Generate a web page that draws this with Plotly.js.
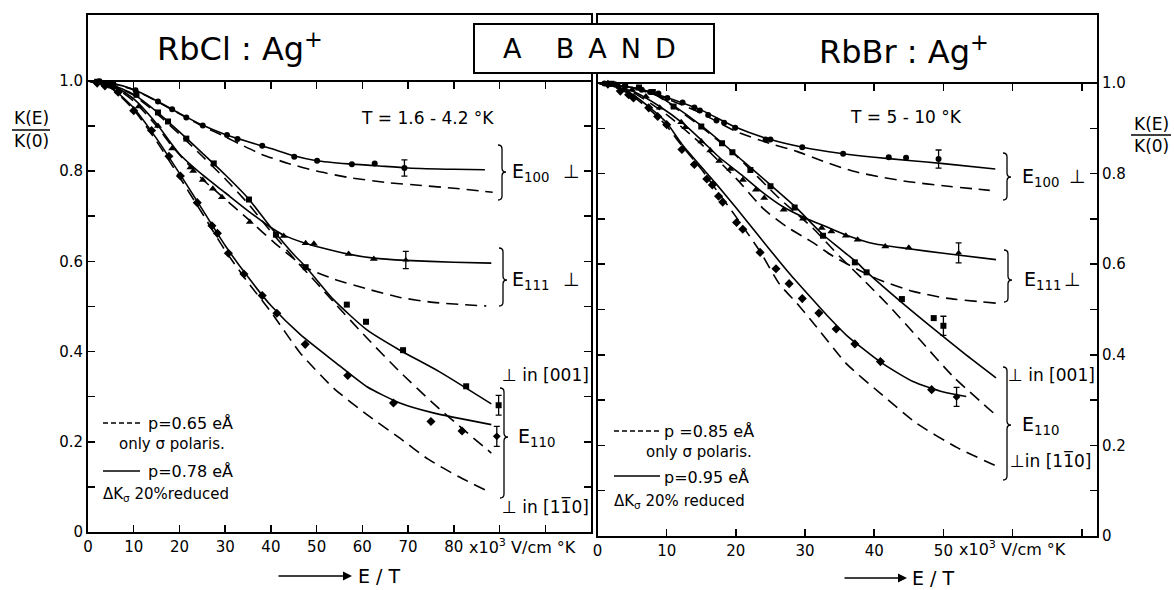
<!DOCTYPE html>
<html><head><meta charset="utf-8">
<script src="https://cdn.plot.ly/plotly-3.0.1.min.js"></script>
<style>html,body{margin:0;padding:0;background:#fff}#chart{width:1174px;height:590px}</style>
</head><body><div id="chart"></div><script>
// ---------------- DATA : left panel (RbCl:Ag+) ----------------
const L_E100_sol_x = [0,5,10,15,20,25,30,35,40,45,50,57,63,70,80,86.8];
const L_E100_sol_y = [1,0.995,0.981,0.956,0.928,0.902,0.881,0.865,0.850,0.834,0.823,0.816,0.812,0.807,0.804,0.803];
const L_E100_das_x = [0,5,10,15,20,25,30,33.6,38,43.8,50,56.9,65,73,80,88.5];
const L_E100_das_y = [1,0.995,0.980,0.955,0.927,0.900,0.876,0.858,0.837,0.817,0.800,0.786,0.775,0.768,0.762,0.753];
const L_E111_sol_x = [0,5,10,15,20,25,30,35,40,42.8,47.5,50,57,62.5,69.5,80,88.2];
const L_E111_sol_y = [1,0.992,0.960,0.905,0.838,0.792,0.752,0.712,0.675,0.658,0.640,0.633,0.616,0.607,0.602,0.598,0.596];
const L_E111_das_x = [0,5,10,15,18.4,22.4,25,29.3,35.4,40.9,47.5,53.7,61,68.2,75.5,87.1];
const L_E111_das_y = [1,0.990,0.955,0.900,0.855,0.810,0.782,0.744,0.690,0.640,0.587,0.561,0.539,0.520,0.509,0.501];
const L_001_sol_x = [0,5,10,15,20,25,30,35,40,45,47.6,53.7,61,68.2,76.9,88.2];
const L_001_sol_y = [1,0.992,0.970,0.932,0.887,0.840,0.792,0.740,0.675,0.615,0.588,0.515,0.448,0.403,0.355,0.284];
const L_001_das_x = [0,5,10,15,20,25,30,35,40,45,50,53.7,61,68.2,75.5,82.7,88.2];
const L_001_das_y = [1,0.991,0.968,0.928,0.882,0.833,0.783,0.728,0.666,0.607,0.552,0.510,0.430,0.355,0.285,0.222,0.175];
const L_110_sol_x = [0,5,10,15,20,25,30,35,40,46.4,53.7,61,68.2,75.5,88.2];
const L_110_sol_y = [1,0.985,0.940,0.872,0.795,0.715,0.635,0.565,0.502,0.438,0.379,0.322,0.286,0.264,0.238];
const L_110_das_x = [0,5,10,15,20,25,30,35,40,46.4,53.7,61,68.2,74.3,81,87.5];
const L_110_das_y = [1,0.984,0.936,0.866,0.787,0.706,0.624,0.553,0.488,0.397,0.319,0.260,0.208,0.162,0.123,0.090];

const L_circ_x = [2.5,5.5,10.4,15.3,18.4,21.5,25.1,30.4,32.7,38.1,45.1,50.1,57.7,62.7];
const L_circ_y = [0.999,0.995,0.979,0.954,0.937,0.919,0.901,0.880,0.871,0.856,0.832,0.823,0.815,0.817];
const L_sq_x = [2,5,10.6,15.3,17.5,21.5,27.5,35.2,41.1,47.6,56.6,60.8,68.9,82.7];
const L_sq_y = [0.998,0.990,0.969,0.930,0.910,0.872,0.817,0.737,0.659,0.587,0.504,0.466,0.403,0.323];
const L_tri_x = [3,6,11.1,15.3,18.4,22.4,23.0,25.1,27.3,29.3,35.4,42.8,47.6,49.4,57.0,62.5];
const L_tri_y = [0.996,0.985,0.943,0.900,0.850,0.808,0.800,0.780,0.761,0.742,0.687,0.656,0.640,0.639,0.616,0.605];
const L_dia_x = [2,3.7,6.6,10,13.9,17.7,20.2,23.9,27.1,28.3,30.7,34.1,38.1,41.3,47.5,56.8,66.8,75,81.8];
const L_dia_y = [0.995,0.989,0.975,0.934,0.890,0.833,0.789,0.730,0.679,0.662,0.618,0.572,0.524,0.485,0.416,0.347,0.286,0.245,0.224];
const L_err_x = [69.2,69.5,89.8,89.4];
const L_err_y = [0.807,0.603,0.281,0.212];
const L_err_e = [0.018,0.019,0.022,0.022];

// ---------------- DATA : right panel (RbBr:Ag+) ----------------
const R_E100_sol_x = [0,5,10,15,20,25,30,35,40,45,50,57.5];
const R_E100_sol_y = [1,0.990,0.968,0.940,0.902,0.875,0.857,0.845,0.836,0.829,0.822,0.810];
const R_E100_das_x = [0,5,10,15,20,25,28.8,33,37,41,45,50,56.7];
const R_E100_das_y = [1,0.989,0.965,0.933,0.893,0.866,0.849,0.825,0.805,0.792,0.782,0.773,0.763];
const R_E111_sol_x = [0,5,9,12.4,15,17.6,21,24,27,30,33,36,40,45,50,57.6];
const R_E111_sol_y = [1,0.982,0.948,0.910,0.874,0.836,0.795,0.757,0.725,0.702,0.683,0.664,0.645,0.634,0.624,0.610];
const R_E111_das_x = [0,5,10,15,20,24,27.3,31.1,34,37.4,40.8,45.6,50.4,57.6];
const R_E111_das_y = [1,0.980,0.930,0.865,0.790,0.722,0.683,0.648,0.618,0.590,0.565,0.540,0.525,0.514];
const R_001_sol_x = [0,5,8,11,15,18,21,25,28.5,32.6,35,37.4,38.9,44,48.6,53,57.6];
const R_001_sol_y = [1,0.990,0.978,0.950,0.906,0.868,0.828,0.775,0.728,0.665,0.635,0.605,0.583,0.515,0.457,0.403,0.349];
const R_001_das_x = [0,5,8,11,15,20,26.3,31.1,35,38.4,42.2,46.6,51.4,57.2];
const R_001_das_y = [1,0.990,0.977,0.948,0.903,0.840,0.745,0.680,0.617,0.566,0.507,0.433,0.352,0.272];
const R_110_sol_x = [0,3,5,8,10,12.2,15,17,20,23,26.3,28,31.1,33.6,36,40.8,45.6,50,53.3];
const R_110_sol_y = [1,0.990,0.975,0.940,0.912,0.865,0.815,0.780,0.725,0.668,0.606,0.575,0.522,0.480,0.443,0.385,0.341,0.318,0.308];
const R_110_das_x = [0,3,5,8,10,12,15,17.5,20,23.5,26.3,28.8,31.1,36,40.8,46.1,52,58.3];
const R_110_das_y = [1,0.988,0.972,0.935,0.905,0.865,0.810,0.757,0.705,0.628,0.556,0.514,0.472,0.380,0.316,0.249,0.195,0.150];

const R_circ_x = [1,2.5,4,6.4,7.6,8.8,10.1,12.3,14,14.8,16,17.2,18.3,19.9,24.3,25,29.6,35.5,42.1,44.6];
const R_circ_y = [0.999,0.997,0.993,0.985,0.980,0.977,0.967,0.957,0.946,0.939,0.929,0.917,0.912,0.901,0.875,0.875,0.858,0.844,0.836,0.835];
const R_sq_x = [2,4,6,8,11,15,18,19.5,22.1,25,28.5,32.6,37.2,38.9,44,48.6];
const R_sq_y = [0.998,0.995,0.990,0.980,0.948,0.904,0.867,0.847,0.808,0.772,0.725,0.663,0.604,0.582,0.523,0.481];
const R_tri_x = [3,5,7,9,12.1,12.7,15,16.3,17.6,19.2,21,22.9,24.1,26.9,29.7,32.4,33.8,35.9,37.6,41.6,45];
const R_tri_y = [0.995,0.985,0.970,0.945,0.913,0.902,0.871,0.851,0.828,0.810,0.786,0.764,0.746,0.720,0.700,0.680,0.672,0.663,0.654,0.639,0.636];
const R_dia_x = [1.5,3.3,4.5,5.2,7.4,8.7,10,12.2,14,15.8,16.6,17.5,18.1,20.1,21,23.5,25.8,27.7,29.6,32,34.5,37.2,40.9,48.3];
const R_dia_y = [0.997,0.982,0.974,0.967,0.945,0.926,0.908,0.853,0.820,0.788,0.775,0.750,0.737,0.692,0.677,0.626,0.590,0.557,0.524,0.492,0.457,0.424,0.385,0.323];
const R_err_x = [49.3,52.2,50.0,51.9];
const R_err_y = [0.832,0.625,0.464,0.307];
const R_err_e = [0.020,0.022,0.021,0.021];

const ERR_SYMBOLS = ['circle','triangle-up','square','diamond'];
const L_XTICKS = [0,10,20,30,40,50,60,70,80,90,100];
const L_XTEXT  = ['0','10','20','30','40','50','60','70','80','',''];
const R_XTICKS = [0,10,20,30,40,50,60,70];
const R_XTEXT  = ['0','10','20','30','40','50','',''];
const Y_TICKS = [0,0.1,0.2,0.3,0.4,0.5,0.6,0.7,0.8,0.9,1.0];
const Y_TEXT  = ['0','','0.2','','0.4','','0.6','','0.8','','1.0'];

// ---------------- helpers ----------------
const W = 1174, H = 590;
const PX = x => x / W, PY = y => 1 - y / H;
const FONT = 'DejaVu Sans, Liberation Sans, sans-serif';
const DASH = '12px,7px';

function curve(x, y, dashed, xa, ya) {
  return {type:'scatter', mode:'lines', x, y, xaxis:xa, yaxis:ya,
    line:{color:'black', width:1.6, dash: dashed ? DASH : 'solid', shape:'spline', smoothing:0.6},
    hoverinfo:'skip', showlegend:false};
}
function pts(x, y, symbol, size, xa, ya) {
  return {type:'scatter', mode:'markers', x, y, xaxis:xa, yaxis:ya,
    marker:{symbol, size, color:'black', line:{width:0}}, hoverinfo:'skip', showlegend:false};
}
function errs(x, y, e, xa, ya) {
  return {type:'scatter', mode:'markers', x, y, xaxis:xa, yaxis:ya,
    marker:{symbol:ERR_SYMBOLS, size:6, color:'black'},
    error_y:{type:'data', array:e, visible:true, color:'black', thickness:1.3, width:3},
    hoverinfo:'skip', showlegend:false};
}

const traces = [
  curve(L_E100_sol_x, L_E100_sol_y, false, 'x3', 'y'),
  curve(L_E100_das_x, L_E100_das_y, true, 'x', 'y'),
  curve(L_E111_sol_x, L_E111_sol_y, false, 'x', 'y'),
  curve(L_E111_das_x, L_E111_das_y, true, 'x', 'y'),
  curve(L_001_sol_x, L_001_sol_y, false, 'x', 'y'),
  curve(L_001_das_x, L_001_das_y, true, 'x', 'y'),
  curve(L_110_sol_x, L_110_sol_y, false, 'x', 'y'),
  curve(L_110_das_x, L_110_das_y, true, 'x', 'y'),
  pts(L_circ_x, L_circ_y, 'circle', 6, 'x', 'y'),
  pts(L_sq_x, L_sq_y, 'square', 6, 'x', 'y'),
  pts(L_tri_x, L_tri_y, 'triangle-up', 7, 'x', 'y'),
  pts(L_dia_x, L_dia_y, 'diamond', 7, 'x', 'y'),
  errs(L_err_x, L_err_y, L_err_e, 'x', 'y'),

  curve(R_E100_sol_x, R_E100_sol_y, false, 'x4', 'y2'),
  curve(R_E100_das_x, R_E100_das_y, true, 'x2', 'y2'),
  curve(R_E111_sol_x, R_E111_sol_y, false, 'x2', 'y2'),
  curve(R_E111_das_x, R_E111_das_y, true, 'x2', 'y2'),
  curve(R_001_sol_x, R_001_sol_y, false, 'x2', 'y2'),
  curve(R_001_das_x, R_001_das_y, true, 'x2', 'y2'),
  curve(R_110_sol_x, R_110_sol_y, false, 'x2', 'y2'),
  curve(R_110_das_x, R_110_das_y, true, 'x2', 'y2'),
  pts(R_circ_x, R_circ_y, 'circle', 6, 'x2', 'y2'),
  pts(R_sq_x, R_sq_y, 'square', 6, 'x2', 'y2'),
  pts(R_tri_x, R_tri_y, 'triangle-up', 7, 'x2', 'y2'),
  pts(R_dia_x, R_dia_y, 'diamond', 7, 'x2', 'y2'),
  errs(R_err_x, R_err_y, R_err_e, 'x2', 'y2')
];

// axis geometry
const LX_DOM = [PX(88), PX(591)], LX_RANGE = [0, 110];
const LY_DOM = [PY(532), PY(15)], LY_RANGE = [0, 1.146];
const RX_DOM = [PX(597.5), PX(1097)], RX_RANGE = [0, 72.2];
const RY_DOM = [PY(536), PY(15)], RY_RANGE = [0, 1.150];
const posAt = (dom, rng, v) => dom[0] + (v - rng[0]) / (rng[1] - rng[0]) * (dom[1] - dom[0]);

const tickF = {family: FONT, size: 15, color: 'black'};
function baseX(dom, rng, tv, tt, anchor) {
  return {domain: dom, range: rng, anchor, tickvals: tv, ticktext: tt, ticks: 'inside', ticklen: 7,
    tickwidth: 1.5, tickcolor: 'black', showline: true, linecolor: 'black', linewidth: 2,
    mirror: true, showgrid: false, zeroline: false, tickfont: tickF, fixedrange: true};
}
function baseY(dom, rng, side, anchor) {
  return {domain: dom, range: rng, anchor, side, tickvals: Y_TICKS, ticktext: Y_TEXT, ticks: 'inside',
    ticklen: 7, tickwidth: 1.5, tickcolor: 'black', showline: true, linecolor: 'black', linewidth: 2,
    mirror: 'ticks', showgrid: false, zeroline: false, tickfont: tickF, fixedrange: true};
}
function topX(over, rng, tv, pos) {
  return {overlaying: over, anchor: 'free', position: pos, side: 'top', range: rng, tickvals: tv,
    ticks: 'inside', ticklen: 7, tickwidth: 1.5, tickcolor: 'black', showticklabels: false,
    showline: true, linecolor: 'black', linewidth: 2, showgrid: false, zeroline: false, fixedrange: true};
}

// annotations
function txt(x, y, text, size, anchor) {
  return {xref:'paper', yref:'paper', x: PX(x), y: PY(y), text, showarrow:false,
    xanchor: anchor || 'center', yanchor:'middle', font:{family: FONT, size, color:'black'}};
}
function arrow(x0, x1, y) {
  return {xref:'paper', yref:'paper', x: PX(x1), y: PY(y), ax: x0 - x1, ay: 0, axref:'pixel', ayref:'pixel',
    text:'', showarrow:true, arrowhead:2, arrowsize:1.2, arrowwidth:1.5, arrowcolor:'black'};
}
const NB = '\u00a0', TH = '\u2009';
const annotations = [
  txt(240, 47, 'RbCl : Ag<sup>+</sup>', 32),
  txt(904, 50, 'RbBr : Ag<sup>+</sup>', 32),
  txt(590, 48, 'A' + NB+NB+NB+NB + 'B' + NB+TH + 'A' + NB+TH + 'N' + NB+TH + 'D', 27),
  txt(427, 118, 'T = 1.6 - 4.2 °K', 17),
  txt(906, 117, 'T = 5 - 10 °K', 17),
  // left panel labels
  txt(510, 172, 'E<sub>100</sub>', 19, 'left'),
  txt(571, 171, '⊥', 19),
  txt(510, 280, 'E<sub>111</sub>', 19, 'left'),
  txt(571, 279, '⊥', 19),
  txt(545, 375, '⊥ in [001]', 17),
  txt(516, 437, 'E<sub>110</sub>', 19, 'left'),
  txt(545, 506, '⊥ in [11\u03050]', 17),
  // right panel labels
  txt(1020, 177, 'E<sub>100</sub>', 19, 'left'),
  txt(1077, 176, '⊥', 19),
  txt(1022, 280, 'E<sub>111</sub>', 19, 'left'),
  txt(1072, 279, '⊥', 19),
  txt(1051, 375, '⊥ in [001]', 17),
  txt(1020, 425, 'E<sub>110</sub>', 19, 'left'),
  txt(1050, 460, '⊥in [11\u03050]', 17),
  // legends
  txt(146, 423, 'p=0.65 eÅ', 16, 'left'),
  txt(117, 444, 'only σ polaris.', 15, 'left'),
  txt(146, 471, 'p=0.78 eÅ', 16, 'left'),
  txt(101, 494, 'ΔK<sub>σ</sub> 20%reduced', 15, 'left'),
  txt(662, 431, 'p =0.85 eÅ', 16, 'left'),
  txt(644, 452, 'only σ polaris.', 15, 'left'),
  txt(662, 477, 'p=0.95 eÅ', 16, 'left'),
  txt(612, 501, 'ΔK<sub>σ</sub> 20% reduced', 15, 'left'),
  // axis units and E/T
  txt(467, 546, 'x10<sup>3</sup> V/cm °K', 16, 'left'),
  txt(957, 548, 'x10<sup>3</sup> V/cm °K', 16, 'left'),
  txt(356, 576, 'E / T', 19, 'left'),
  txt(910, 578, 'E / T', 19, 'left'),
  arrow(277, 352, 576),
  arrow(843, 907, 578),
  // K(E)/K(0)
  txt(31, 118, 'K(E)', 17),
  txt(31, 141, 'K(0)', 17),
  txt(1151, 124, 'K(E)', 17),
  txt(1151, 146, 'K(0)', 17)
];

// shapes: header box, braces, legend samples, fraction bars
function seg(x0, y0, x1, y1, dash) {
  return {type:'line', xref:'paper', yref:'paper', x0: PX(x0), y0: PY(y0), x1: PX(x1), y1: PY(y1),
    line:{color:'black', width:1.5, dash: dash || 'solid'}, layer:'above'};
}
function brace(x, y0, y1, ym) {
  const a = 4, X = v => PX(v).toFixed(5), Y = v => PY(v).toFixed(5);
  const p = `M ${X(x)},${Y(y0)} Q ${X(x+a)},${Y(y0)} ${X(x+a)},${Y(y0+a)} L ${X(x+a)},${Y(ym-a)} ` +
    `Q ${X(x+a)},${Y(ym)} ${X(x+2*a)},${Y(ym)} Q ${X(x+a)},${Y(ym)} ${X(x+a)},${Y(ym+a)} ` +
    `L ${X(x+a)},${Y(y1-a)} Q ${X(x+a)},${Y(y1)} ${X(x)},${Y(y1)}`;
  return {type:'path', xref:'paper', yref:'paper', path: p, line:{color:'black', width:1.3}, layer:'above'};
}
const shapes = [
  {type:'rect', xref:'paper', yref:'paper', x0: PX(474), y0: PY(24), x1: PX(714), y1: PY(73),
   fillcolor:'white', line:{color:'black', width:2}, layer:'above'},
  brace(498, 145, 200, 172), brace(499, 248, 306, 280), brace(500, 388, 498, 437),
  brace(1003, 153, 200, 177), brace(1004, 250, 302, 280), brace(1003, 367, 480, 425),
  seg(103, 423, 142, 423, '5px,3px'), seg(103, 471, 140, 471),
  seg(614, 431, 659, 431, '5px,3px'), seg(614, 476, 660, 476),
  seg(12, 130, 50, 130), seg(1131, 135, 1171, 135)
];

const layout = {
  width: W, height: H, margin: {l:0, r:0, t:0, b:0},
  paper_bgcolor: 'white', plot_bgcolor: 'rgba(0,0,0,0)', showlegend: false,
  font: {family: FONT, color: 'black'},
  xaxis: baseX(LX_DOM, LX_RANGE, L_XTICKS, L_XTEXT, 'y'),
  yaxis: baseY(LY_DOM, LY_RANGE, 'left', 'x'),
  xaxis2: baseX(RX_DOM, RX_RANGE, R_XTICKS, R_XTEXT, 'y2'),
  yaxis2: baseY(RY_DOM, RY_RANGE, 'right', 'x2'),
  xaxis3: topX('x', LX_RANGE, [10,20,30,40,50,60,70,80,90,100], posAt(LY_DOM, LY_RANGE, 1.0)),
  xaxis4: topX('x2', RX_RANGE, [10,20,30,40,50,60,70], posAt(RY_DOM, RY_RANGE, 1.0)),
  annotations, shapes
};

Plotly.newPlot('chart', traces, layout, {staticPlot: true, displayModeBar: false});
</script></body></html>
